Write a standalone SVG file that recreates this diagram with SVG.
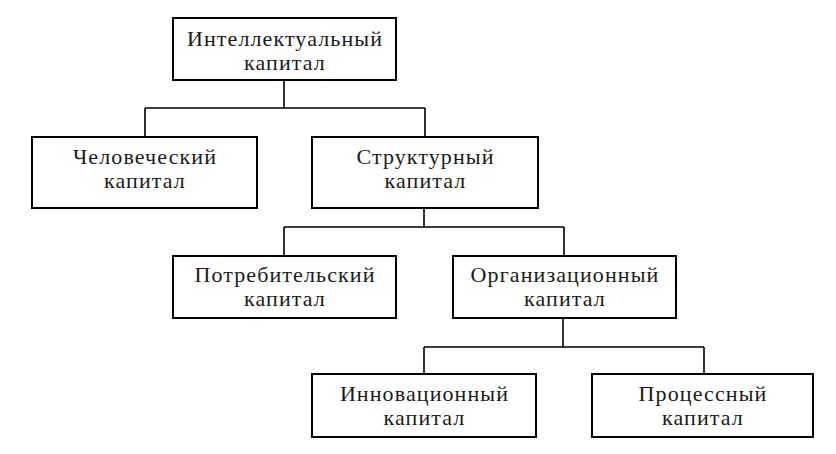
<svg xmlns="http://www.w3.org/2000/svg" width="836" height="454" viewBox="0 0 836 454">
<style>
rect{fill:#fff;stroke:#000;stroke-width:2}
.c{fill:none;stroke:#000;stroke-width:1.6}
text{font-family:"Liberation Serif","Times New Roman",serif;font-size:22px;letter-spacing:1.1px;text-anchor:middle;fill:#1a1a1a}
</style>
<rect x="0" y="0" width="836" height="454" style="stroke:none"/>
<g id="connectors">
<path class="c" d="M284 80V108M145 108H425M145 108V137M425 108V137"/>
<path class="c" d="M424 208V227M284 227H564M284 227V256M564 227V256"/>
<path class="c" d="M563 318V347M424 347H704M424 347V374M704 347V374"/>
</g>
<g id="n1"><rect x="173" y="18" width="223" height="62"/><text x="285" y="45.5">Интеллектуальный</text><text x="285" y="70">капитал</text></g>
<g id="n2"><rect x="32" y="137" width="225" height="71"/><text x="145" y="163.5">Человеческий</text><text x="145" y="188">капитал</text></g>
<g id="n3"><rect x="312" y="137" width="226" height="71"/><text x="425.5" y="163.5">Структурный</text><text x="425.5" y="188">капитал</text></g>
<g id="n4"><rect x="173" y="256" width="223" height="62"/><text x="285" y="281.5">Потребительский</text><text x="285" y="306">капитал</text></g>
<g id="n5"><rect x="453" y="256" width="223" height="62"/><text x="565" y="281.5">Организационный</text><text x="565" y="306">капитал</text></g>
<g id="n6"><rect x="312" y="374" width="224" height="63"/><text x="424.5" y="400.5">Инновационный</text><text x="424.5" y="425">капитал</text></g>
<g id="n7"><rect x="592" y="374" width="221" height="63"/><text x="703" y="400.5">Процессный</text><text x="703" y="425">капитал</text></g>
</svg>
